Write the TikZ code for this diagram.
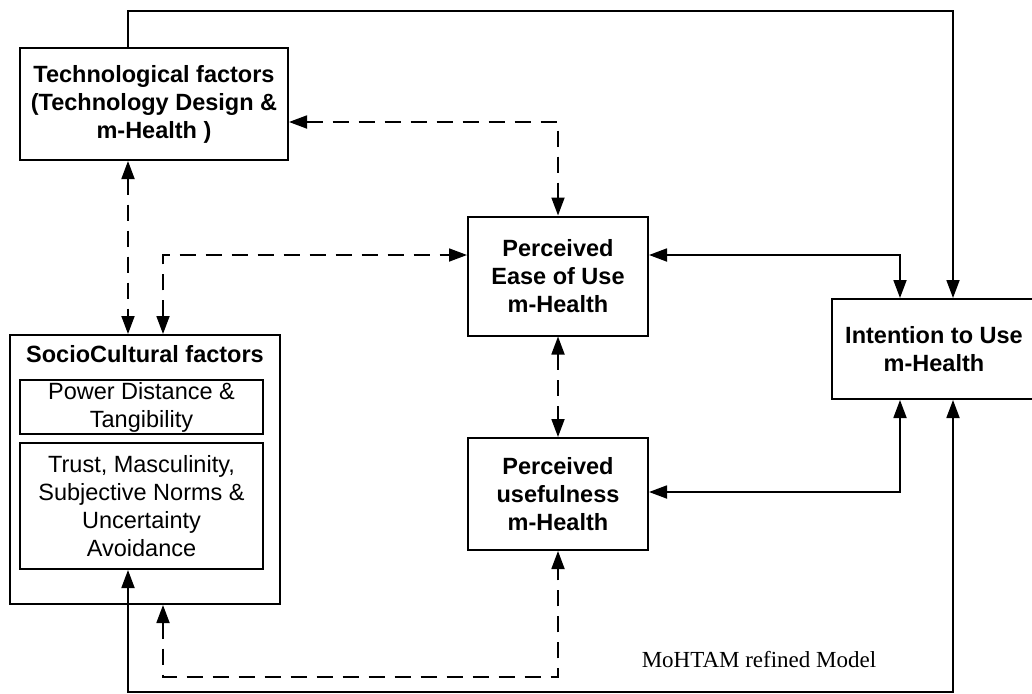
\documentclass[tikz,border=0pt]{standalone}
\usepackage{fontspec}
\setmainfont{Liberation Sans}
\newfontfamily\capfont{Liberation Serif}
\usepackage{tikz}
\usetikzlibrary{arrows.meta,positioning,calc}

\tikzset{
  box/.style={draw, line width=2pt, inner sep=0pt, align=center,
    font=\fontsize{23.5}{28}\selectfont\bfseries},
  subbox/.style={box, font=\fontsize{23.5}{28}\selectfont},
  link/.style={line width=1.8pt},
  dlink/.style={link, dash pattern=on 16pt off 10pt},
}

\begin{document}
\begin{tikzpicture}[x=1pt, y=-1pt, >={Triangle[length=18pt,width=13pt]}]
    \useasboundingbox (0,0) rectangle (1032,693);

    % Factor boxes
    \node[box, minimum width=268pt, minimum height=112pt] (tech) at (154,104)
        {Technological factors\\(Technology Design \&\\m-Health )};
    \node[box, minimum width=270pt, minimum height=269pt] (socio) at (145,469.5) {};
    \node[font=\fontsize{23.5}{28}\selectfont\bfseries] (sociotitle) at (145,354) {SocioCultural factors};
    \node[subbox, minimum width=243pt, minimum height=54pt] (power) at (141.5,407)
        {Power Distance \&\\Tangibility};
    \node[subbox, minimum width=243pt, minimum height=126pt] (trust) at (141.5,506)
        {Trust, Masculinity,\\Subjective Norms \&\\Uncertainty\\Avoidance};

    % TAM boxes
    \node[box, minimum width=180pt, minimum height=119pt] (ease) at (558,276)
        {Perceived\\Ease of Use\\m-Health};
    \node[box, minimum width=180pt, minimum height=112pt] (useful) at (558,494)
        {Perceived\\usefulness\\m-Health};
    \node[box, minimum width=204pt, minimum height=100pt] (intent) at (934,349)
        {Intention to Use\\m-Health};

    \node[font=\capfont\fontsize{23}{28}\selectfont] (caption) at (759,660) {MoHTAM refined Model};

    % Bends
    \coordinate (topL) at (128,11);
    \coordinate (topR) at (953,11);
    \coordinate (techR) at (558,122);
    \coordinate (midL) at (163,255);
    \coordinate (midR) at (900,255);
    \coordinate (lowR) at (900,492);
    \coordinate (dashB) at (163,677);
    \coordinate (solidB) at (128,692);
    \coordinate (solidR) at (953,692);

    % Solid links
    \draw[link, ->] (tech.north -| topL) -- (topL) -- (topR) -- (intent.north -| topR);
    \draw[link, <->] (ease.east |- midR) -- (midR) -- (intent.north -| midR);
    \draw[link, <->] (useful.east |- lowR) -- (lowR) -- (intent.south -| lowR);
    \draw[link, <->] (trust.south -| solidB) -- (solidB) -- (solidR) -- (intent.south -| solidR);

    % Dashed links
    \draw[dlink, <->] (tech.east |- techR) -- (techR) -- (ease.north);
    \draw[dlink, <->] (tech.south -| topL) -- (socio.north -| topL);
    \draw[dlink, <->] (socio.north -| midL) -- (midL) -- (ease.west |- midL);
    \draw[dlink, <->] (ease.south) -- (useful.north);
    \draw[dlink, <->] (socio.south -| dashB) -- (dashB) -- (useful.south |- dashB) -- (useful.south);
\end{tikzpicture}
\end{document}
